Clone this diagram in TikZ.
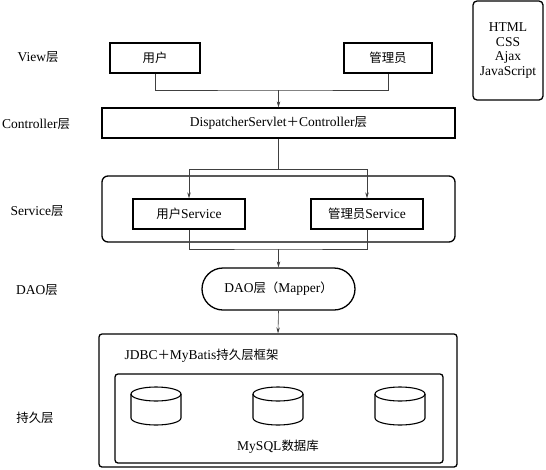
\documentclass[tikz,border=0pt]{standalone}
\usepackage{fontspec}
\setmainfont{Liberation Serif}
\newfontfamily\cjk[Scale=0.92]{Noto Sans CJK SC}
\newcommand{\zh}[1]{{\cjk #1}}
\usetikzlibrary{arrows.meta,positioning}

\begin{document}
\begin{tikzpicture}[x=1pt,y=1pt,yscale=-1,
  every node/.style={font=\fontsize{13.5}{14.7}\selectfont},
  box/.style={draw,line width=1.3,minimum height=30,inner sep=2},
  frame/.style={draw,line width=1.3,inner sep=0},
  link/.style={line width=0.6,draw=black!75},
  arr/.style={link,-{Stealth[length=6,width=3.5]}}]
\useasboundingbox (0,0) rectangle (546,469);

% layer labels
\node (lview) at (38,57) {View\zh{层}};
\node (lctrl) at (36,124) {Controller\zh{层}};
\node (lsvc) at (37,211) {Service\zh{层}};
\node (ldao) at (37,290) {DAO\zh{层}};
\node (lpers) at (35,418) {\zh{持久层}};

% front end box
\node[frame,rounded corners=4,minimum width=70,minimum height=99,align=center] (web) at (508,50.5)
  {HTML\\CSS\\Ajax\\JavaScript};

% View
\node[box,minimum width=90] (user) at (155,58) {\zh{用户}};
\node[box,minimum width=88] (admin) at (388,58) {\zh{管理员}};

% Controller
\node[box,minimum width=353] (ctrl) at (278.5,123) {DispatcherServlet\zh{＋}Controller\zh{层}};

% Service
\node[frame,rounded corners=6,minimum width=353,minimum height=66] (svc) at (278.5,209) {};
\node[box,minimum width=112] (usvc) at (189,214) {\zh{用户}Service};
\node[box,minimum width=112] (asvc) at (367,214) {\zh{管理员}Service};

% DAO
\node[box,rounded corners=21,minimum width=153,minimum height=42] (dao) at (278.5,289) {DAO\zh{层（}Mapper\zh{）}};

% persistence
\node[frame,rounded corners=3,minimum width=358,minimum height=133] (pers) at (278,400.5) {};
\node[anchor=west] (jdbc) at (121,356) {JDBC\zh{＋}MyBatis\zh{持久层框架}};
\node[frame,rounded corners=3,minimum width=328,minimum height=89] (db) at (279,418.5) {};
\node (mysql) at (278,447) {MySQL\zh{数据库}};

% cylinders
\foreach \cx in {156,278,400} {
  \draw[line width=1.1] (\cx,394) ellipse (25 and 7);
  \draw[line width=1.1] (\cx-25,394) -- (\cx-25,418) arc (180:0:25 and 7) -- (\cx+25,394);
}

% connectors
\coordinate (vjoin) at (278.5,90);
\coordinate (sjoin) at (278.5,169);
\coordinate (djoin) at (278.5,249);
\draw[link] (user.south) |- (vjoin) -| (admin.south);
\draw[arr] (vjoin) -- (ctrl.north);
\draw[link] (ctrl.south) -- (sjoin);
\draw[arr] (sjoin) -| (usvc.north);
\draw[arr] (sjoin) -| (asvc.north);
\draw[link] (usvc.south) |- (djoin) -| (asvc.south);
\draw[arr] (djoin) -- (dao.north);
\draw[arr] (dao.south) -- (pers.north);
\end{tikzpicture}
\end{document}
